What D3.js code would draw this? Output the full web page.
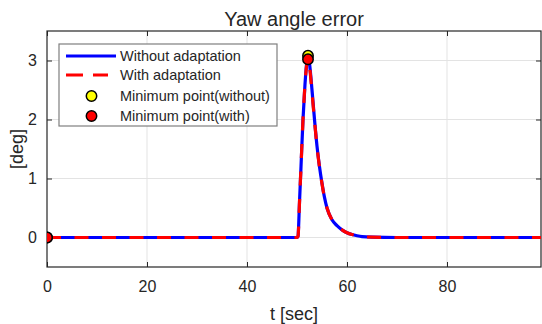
<!DOCTYPE html>
<html>
<head>
<meta charset="utf-8">
<script src="https://cdn.jsdelivr.net/npm/d3@7"></script>
<style>
  body { margin: 0; background: #fff; }
  svg text { font-family: "Liberation Sans", Arial, sans-serif; fill: #262626; }
</style>
</head>
<body>
<div id="chart"></div>
<script>
// time samples (sec)
var tVals = [0, 50, 50.2, 50.5, 50.8, 51.2, 51.6, 52.0, 52.2, 52.5, 53, 53.5, 54, 54.5, 55, 55.5, 56, 57, 58, 59, 60, 61, 62, 63, 65, 70, 80, 90, 98.8];
// yaw angle error [deg]
var withoutVals = [0, 0, 0.02, 0.6, 1.2, 2.0, 2.6, 3.0, 3.08, 2.95, 2.5, 2.0, 1.55, 1.2, 0.92, 0.68, 0.5, 0.3, 0.2, 0.13, 0.08, 0.05, 0.03, 0.015, 0.005, 0, 0, 0, 0];
var withVals    = [0, 0, 0.02, 0.6, 1.2, 2.0, 2.6, 2.96, 3.02, 2.9, 2.46, 1.98, 1.54, 1.19, 0.91, 0.67, 0.5, 0.3, 0.2, 0.13, 0.08, 0.05, 0.03, 0.015, 0.005, 0, 0, 0, 0];
// marked points
var minWithoutT = [0, 52.2], minWithoutV = [0, 3.08];
var minWithT = [0, 52.2], minWithV = [0, 3.02];

var xTicks = [0, 20, 40, 60, 80];
var yTicks = [0, 1, 2, 3];
var legendLabels = ["Without adaptation", "With adaptation", "Minimum point(without)", "Minimum point(with)"];

var W = 542, H = 324;
var margin = {top: 31, right: 1, bottom: 57, left: 47};
var width = W - margin.left - margin.right,
    height = H - margin.top - margin.bottom;

var svg = d3.select("#chart").append("svg")
    .attr("width", W).attr("height", H);

var g = svg.append("g")
    .attr("transform", "translate(" + margin.left + "," + margin.top + ")");

var x = d3.scaleLinear().domain([0, 98.8]).range([0, width]);
var y = d3.scaleLinear().domain([-0.5, 3.5]).range([height, 0]);

svg.append("defs").append("clipPath").attr("id", "clip")
  .append("rect").attr("width", width).attr("height", height);

// grid
g.append("g").selectAll("line").data(xTicks.slice(1)).enter().append("line")
    .attr("x1", d => x(d)).attr("x2", d => x(d))
    .attr("y1", 0).attr("y2", height)
    .style("stroke", "#e3e3e3").style("stroke-width", 1);
g.append("g").selectAll("line").data(yTicks).enter().append("line")
    .attr("x1", 0).attr("x2", width)
    .attr("y1", d => y(d)).attr("y2", d => y(d))
    .style("stroke", "#e3e3e3").style("stroke-width", 1);

// axes (ticks inward, box on)
function styleAxis(sel) {
  sel.select(".domain").remove();
  sel.selectAll(".tick line").style("stroke", "#262626");
  sel.selectAll(".tick text").style("font-size", "16px").style("fill", "#262626")
     .style("font-family", "'Liberation Sans', Arial, sans-serif");
}
g.append("g").attr("transform", "translate(0," + height + ")")
  .call(d3.axisBottom(x).tickValues(xTicks).tickSizeInner(-5).tickSizeOuter(0).tickPadding(14).tickFormat(d3.format("d")))
  .call(styleAxis);
g.append("g")
  .call(d3.axisTop(x).tickValues(xTicks).tickSizeInner(-5).tickSizeOuter(0).tickFormat(""))
  .call(styleAxis);
g.append("g")
  .call(d3.axisLeft(y).tickValues(yTicks).tickSizeInner(-5).tickSizeOuter(0).tickPadding(10).tickFormat(d3.format("d")))
  .call(styleAxis);
g.append("g").attr("transform", "translate(" + width + ",0)")
  .call(d3.axisRight(y).tickValues(yTicks).tickSizeInner(-5).tickSizeOuter(0).tickFormat(""))
  .call(styleAxis);

g.append("rect").attr("width", width).attr("height", height)
  .style("fill", "none").style("stroke", "#262626").style("stroke-width", 1.2);

// curves
var line = d3.line().x(d => x(d[0])).y(d => y(d[1])).curve(d3.curveMonotoneX);
var plot = g.append("g").attr("clip-path", "url(#clip)");

plot.append("path").datum(d3.zip(tVals, withoutVals))
  .attr("d", line)
  .style("fill", "none").style("stroke", "#0000ff").style("stroke-width", 3.2);
plot.append("path").datum(d3.zip(tVals, withVals))
  .attr("d", line)
  .style("fill", "none").style("stroke", "#ff0000").style("stroke-width", 3.2)
  .style("stroke-dasharray", "14,13.5");

plot.selectAll(".mw").data(d3.zip(minWithoutT, minWithoutV)).enter().append("circle")
  .attr("cx", d => x(d[0])).attr("cy", d => y(d[1])).attr("r", 5.2)
  .style("fill", "#ffff00").style("stroke", "#000").style("stroke-width", 1.5);
plot.selectAll(".mr").data(d3.zip(minWithT, minWithV)).enter().append("circle")
  .attr("cx", d => x(d[0])).attr("cy", d => y(d[1])).attr("r", 5.2)
  .style("fill", "#ff0000").style("stroke", "#000").style("stroke-width", 1.5);

// title and labels
svg.append("text").attr("x", margin.left + width / 2).attr("y", 26)
  .style("text-anchor", "middle").style("font-size", "20px").text("Yaw angle error");
svg.append("text").attr("x", margin.left + width / 2).attr("y", 320)
  .style("text-anchor", "middle").style("font-size", "18px").text("t [sec]");
svg.append("text").attr("transform", "translate(23," + (margin.top + height / 2) + ") rotate(-90)")
  .style("text-anchor", "middle").style("font-size", "18px").text("[deg]");

// legend
var lg = svg.append("g").attr("transform", "translate(59,44)");
lg.append("rect").attr("width", 218).attr("height", 82)
  .style("fill", "#fff").style("stroke", "#7f7f7f").style("stroke-width", 1.2);
var rowY = [12, 31, 52, 72];
lg.selectAll(".lt").data(legendLabels).enter().append("text")
  .attr("x", 61).attr("y", (d, i) => rowY[i] + 5)
  .style("font-size", "14.5px").text(d => d);
lg.append("line").attr("x1", 7).attr("x2", 57).attr("y1", rowY[0]).attr("y2", rowY[0])
  .style("stroke", "#0000ff").style("stroke-width", 3.2);
lg.append("line").attr("x1", 7).attr("x2", 49).attr("y1", rowY[1]).attr("y2", rowY[1])
  .style("stroke", "#ff0000").style("stroke-width", 3.2).style("stroke-dasharray", "17,10");
lg.append("circle").attr("cx", 32.5).attr("cy", rowY[2]).attr("r", 5.2)
  .style("fill", "#ffff00").style("stroke", "#000").style("stroke-width", 1.5);
lg.append("circle").attr("cx", 32.5).attr("cy", rowY[3]).attr("r", 5.2)
  .style("fill", "#ff0000").style("stroke", "#000").style("stroke-width", 1.5);
</script>
</body>
</html>
